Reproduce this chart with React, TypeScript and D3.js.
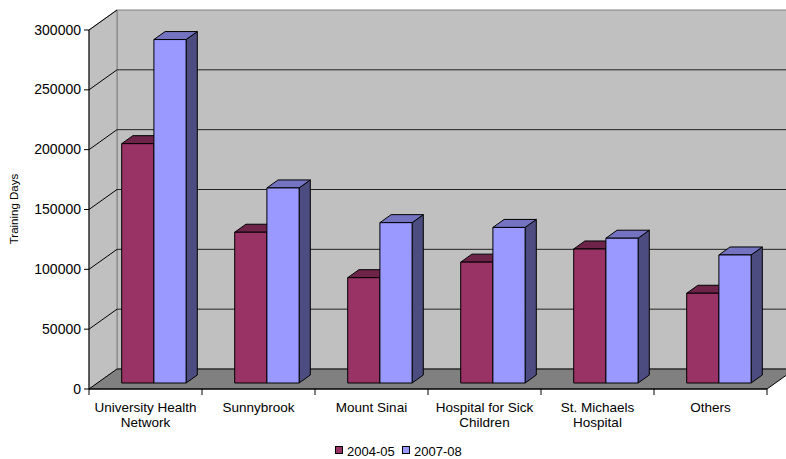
import React from "react";
import * as d3 from "d3";

// Training days by hospital, two fiscal years
const categories = [
  "University Health Network",
  "Sunnybrook",
  "Mount Sinai",
  "Hospital for Sick Children",
  "St. Michaels Hospital",
  "Others",
];
const series2004 = [200000, 126000, 88000, 101000, 112000, 75000];
const series2007 = [287000, 163000, 134000, 130000, 121000, 107000];
const seriesNames = ["2004-05", "2007-08"];
const yTicks = [0, 50000, 100000, 150000, 200000, 250000, 300000];

const W = 786;
const H = 459;
const FONT = "'Liberation Sans', Arial, sans-serif";

// front plane of the 3D box
const x0 = 89;
const x1 = 767;
const yBottom = 389;
const yTop = 30;
// full depth offset of the box
const DX = 28;
const DY = -20;
// bar depth span (fraction of box depth)
const T0 = 0.3;
const T1 = 0.7;

const colors = {
  front: ["#993366", "#9999ff"],
  top: ["#6e2449", "#7373c2"],
  side: ["#4a1a33", "#4c4c80"],
};

function wrap(text: string, maxW: number, font: string): string[] {
  const c = document.createElement("canvas").getContext("2d")!;
  c.font = font;
  const words = text.split(" ");
  const lines: string[] = [];
  let cur = "";
  for (const w of words) {
    const t = cur ? cur + " " + w : w;
    if (c.measureText(t).width > maxW && cur) {
      lines.push(cur);
      cur = w;
    } else cur = t;
  }
  if (cur) lines.push(cur);
  return lines;
}

export default function App() {
  const xBand = d3.scaleBand<string>().domain(categories).range([x0, x1]).paddingInner(0).paddingOuter(0);
  const y = d3.scaleLinear().domain([0, 300000]).range([yBottom, yTop]);
  const bw = xBand.bandwidth();
  const barW = bw * 0.285;
  const pairW = barW * 2;

  const P = (x: number, yy: number, t: number) => [x + DX * t, yy + DY * t];
  const pts = (arr: number[][]) => arr.map((p) => p.join(",")).join(" ");

  const bars: React.ReactNode[] = [];
  categories.forEach((cat, i) => {
    const start = (xBand(cat) as number) + (bw - pairW) / 2;
    [series2004[i], series2007[i]].forEach((v, s) => {
      const xl = start + s * barW;
      const xr = xl + barW;
      const yv = y(v);
      const yb = y(0);
      const front = [P(xl, yv, T0), P(xr, yv, T0), P(xr, yb, T0), P(xl, yb, T0)];
      const top = [P(xl, yv, T0), P(xl, yv, T1), P(xr, yv, T1), P(xr, yv, T0)];
      const side = [P(xr, yv, T0), P(xr, yv, T1), P(xr, yb, T1), P(xr, yb, T0)];
      bars.push(
        <g key={cat + s}>
          <polygon points={pts(side)} fill={colors.side[s]} stroke="#000" strokeWidth={1} strokeLinejoin="round" />
          <polygon points={pts(top)} fill={colors.top[s]} stroke="#000" strokeWidth={1} strokeLinejoin="round" />
          <polygon points={pts(front)} fill={colors.front[s]} stroke="#000" strokeWidth={1} />
        </g>
      );
    });
  });

  const backWall = [P(x0, yTop, 1), P(x1, yTop, 1), P(x1, yBottom, 1), P(x0, yBottom, 1)];
  const leftWall = [P(x0, yTop, 0), P(x0, yTop, 1), P(x0, yBottom, 1), P(x0, yBottom, 0)];
  const floor = [P(x0, yBottom, 0), P(x0, yBottom, 1), P(x1, yBottom, 1), P(x1, yBottom, 0)];

  const labelFont = `13.5px ${FONT}`;

  return (
    <svg width={W} height={H} style={{ position: "absolute", left: 0, top: 0 }} fontFamily={FONT}>
      <rect width={W} height={H} fill="#fff" />
      <polygon points={pts(backWall)} fill="#c0c0c0" stroke="#808080" strokeWidth={1} />
      <polygon points={pts(leftWall)} fill="#c0c0c0" stroke="#808080" strokeWidth={1} />
      {yTicks.slice(1, -1).map((t) => {
        const a = P(x0, y(t), 0);
        const b = P(x0, y(t), 1);
        const c = P(x1, y(t), 1);
        return (
          <g key={t}>
            <line x1={a[0]} y1={a[1]} x2={b[0]} y2={b[1]} stroke="#000" strokeWidth={1} />
            <line x1={b[0]} y1={b[1]} x2={c[0]} y2={c[1]} stroke="#222" strokeWidth={1} />
          </g>
        );
      })}
      {(() => {
        const a = P(x0, y(300000), 0);
        const b = P(x0, y(300000), 1);
        return <line x1={a[0]} y1={a[1]} x2={b[0]} y2={b[1]} stroke="#000" strokeWidth={1} />;
      })()}
      <polygon points={pts(floor)} fill="#808080" stroke="#000" strokeWidth={1} strokeLinejoin="round" />
      {bars}
      {/* value axis */}
      <line x1={x0} y1={yTop} x2={x0} y2={yBottom} stroke="#000" strokeWidth={1} />
      {yTicks.map((t) => (
        <g key={t}>
          <line x1={x0 - 5} x2={x0} y1={y(t)} y2={y(t)} stroke="#000" />
          <text x={x0 - 8} y={y(t) + 4.5} textAnchor="end" fontSize={14} fill="#000">
            {t}
          </text>
        </g>
      ))}
      {/* category axis */}
      <line x1={x0} y1={yBottom} x2={x1} y2={yBottom} stroke="#000" strokeWidth={1} />
      {d3.range(categories.length + 1).map((i) => (
        <line key={i} x1={x0 + bw * i} x2={x0 + bw * i} y1={yBottom} y2={yBottom + 6} stroke="#000" />
      ))}
      {categories.map((cat) => {
        const cx = (xBand(cat) as number) + bw / 2;
        const lines = wrap(cat, bw - 4, labelFont);
        return (
          <text key={cat} x={cx} y={411.5} textAnchor="middle" fontSize={13.5} fill="#000">
            {lines.map((l, k) => (
              <tspan key={k} x={cx} dy={k === 0 ? 0 : 15.5}>
                {l}
              </tspan>
            ))}
          </text>
        );
      })}
      <text transform="translate(18,209) rotate(-90)" textAnchor="middle" fontSize={11.5} fill="#000">
        Training Days
      </text>
      {/* legend */}
      {seriesNames.map((n, s) => {
        const lx = 335 + s * 67;
        return (
          <g key={n}>
            <rect x={lx + 0.5} y={446.5} width={7} height={7} fill={colors.front[s]} stroke="#000" />
            <text x={lx + 12} y={455.5} fontSize={13} fill="#000">
              {n}
            </text>
          </g>
        );
      })}
    </svg>
  );
}
